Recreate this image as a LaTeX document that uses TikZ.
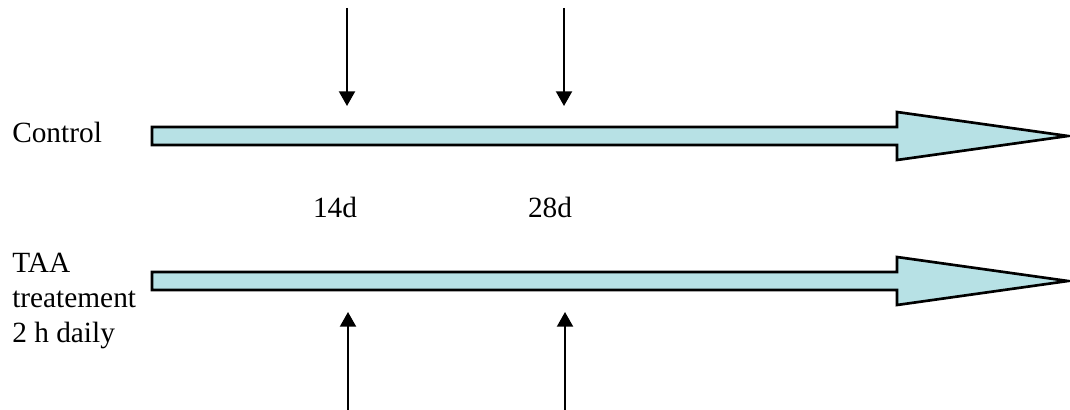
\documentclass[tikz,border=0pt]{standalone}
\usepackage{fontspec}
\setmainfont{Liberation Serif}
\usetikzlibrary{arrows.meta}
\definecolor{barfill}{RGB}{183,225,229}
\tikzset{
  timebar/.style={draw=black, line width=2pt, fill=barfill, line join=miter},
  marker/.style={line width=1.5pt, -{Triangle[width=12pt,length=11pt]}},
  lbl/.style={font=\fontsize{22}{26.25}\selectfont, inner sep=0pt},
}
\begin{document}
\begin{tikzpicture}[x=0.75pt, y=-0.75pt]
\useasboundingbox (0,0) rectangle (1070,410);

% timeline bars (shaft + head)
\newcommand{\timeline}[1]{%
  \draw[timebar] (152,#1-9) -- (897,#1-9) -- (897,#1-24) -- (1068,#1)
    -- (897,#1+24) -- (897,#1+9) -- (152,#1+9) -- cycle;}
\timeline{136}
\timeline{281}

% group labels
\node[lbl, anchor=base west] (ctrl) at (12,142) {Control};
\node[lbl, anchor=base west, align=left] (taa) at (12,342)
  {TAA\\treatement\\2 h daily};

% time points
\node[lbl, anchor=base] (d14) at (335,217) {14d};
\node[lbl, anchor=base] (d28) at (550,217) {28d};

% sampling markers
\coordinate (a1s) at (347,8);   \coordinate (a1e) at (347,106);
\coordinate (a2s) at (564,8);   \coordinate (a2e) at (564,106);
\coordinate (b1s) at (348,410); \coordinate (b1e) at (348,312);
\coordinate (b2s) at (565,410); \coordinate (b2e) at (565,312);
\draw[marker] (a1s) -- (a1e);
\draw[marker] (a2s) -- (a2e);
\draw[marker] (b1s) -- (b1e);
\draw[marker] (b2s) -- (b2e);
\end{tikzpicture}
\end{document}
